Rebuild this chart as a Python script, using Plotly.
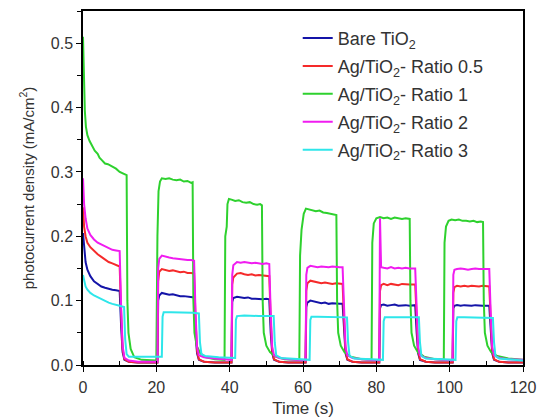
import plotly.graph_objects as go

# Photocurrent transients (light on/off cycles), read as (time s, current mA/cm2)
BARE_TIO2 = [
    (0, 0.205), (0.3, 0.18), (0.7, 0.16), (1.2, 0.148), (2, 0.138), (3, 0.13), (4, 0.126),
    (5, 0.122), (6, 0.12), (7, 0.118), (8, 0.117), (9, 0.116), (10.0, 0.115),
    (10.4, 0.06), (10.8, 0.02), (11.3, 0.008), (12.5, 0.005), (15, 0.004), (20.3, 0.004),
    (20.5, 0.1), (20.8, 0.108), (21.5, 0.112), (22.5, 0.111), (23.5, 0.109), (24.5, 0.11),
    (25.5, 0.108), (26.5, 0.107), (27.5, 0.107), (28.5, 0.106), (29.5, 0.105), (30.3, 0.105),
    (30.7, 0.05), (31.1, 0.018), (31.6, 0.008), (33, 0.005), (36, 0.004), (40.5, 0.004),
    (40.7, 0.098), (41, 0.104), (42, 0.106), (43, 0.105), (44, 0.104), (45, 0.105), (46, 0.103),
    (47, 0.103), (48, 0.102), (49, 0.102), (50, 0.103), (50.8, 0.102),
    (51.2, 0.05), (51.6, 0.018), (52.1, 0.008), (53.5, 0.005), (56, 0.004), (60.7, 0.004),
    (60.9, 0.09), (61.2, 0.097), (62, 0.1), (63, 0.099), (64, 0.097), (65, 0.096), (66, 0.097),
    (67, 0.095), (68, 0.096), (69, 0.095), (70, 0.095), (70.8, 0.095),
    (71.2, 0.05), (71.6, 0.018), (72.1, 0.008), (73.5, 0.005), (76, 0.004), (80.8, 0.004),
    (81.0, 0.088), (81.3, 0.093), (82, 0.094), (83, 0.092), (84, 0.093), (85, 0.094), (86, 0.092),
    (87, 0.093), (88, 0.093), (89, 0.092), (90.6, 0.093),
    (91.0, 0.05), (91.4, 0.018), (91.9, 0.008), (93.5, 0.005), (96, 0.004), (100.8, 0.004),
    (101.0, 0.088), (101.3, 0.092), (102, 0.093), (103, 0.092), (104, 0.093), (105, 0.092),
    (106, 0.092), (107, 0.093), (108, 0.092), (109, 0.092), (110.8, 0.092),
    (111.2, 0.05), (111.6, 0.018), (112.1, 0.008), (113.5, 0.005), (116, 0.004), (120, 0.004),
]

RATIO_05 = [
    (0, 0.245), (0.3, 0.215), (0.7, 0.2), (1.2, 0.19), (2, 0.183), (3, 0.177), (4, 0.172),
    (5, 0.168), (6, 0.164), (7, 0.16), (8, 0.158), (9, 0.155), (10.0, 0.153),
    (10.4, 0.08), (10.8, 0.025), (11.3, 0.009), (12.5, 0.005), (15, 0.004), (20.3, 0.004),
    (20.5, 0.13), (20.8, 0.145), (21.5, 0.149), (22.5, 0.148), (23.5, 0.146), (24.5, 0.147),
    (25.5, 0.145), (26.5, 0.144), (27.5, 0.145), (28.5, 0.143), (29.5, 0.143), (30.3, 0.142),
    (30.7, 0.07), (31.1, 0.022), (31.6, 0.009), (33, 0.005), (36, 0.004), (40.5, 0.004),
    (40.7, 0.125), (41, 0.136), (42, 0.142), (43, 0.143), (44, 0.141), (45, 0.14), (46, 0.141),
    (47, 0.139), (48, 0.14), (49, 0.139), (50, 0.139), (50.8, 0.138),
    (51.2, 0.07), (51.6, 0.022), (52.1, 0.009), (53.5, 0.005), (56, 0.004), (60.7, 0.004),
    (60.9, 0.115), (61.2, 0.127), (62, 0.131), (63, 0.13), (64, 0.128), (65, 0.127), (66, 0.128),
    (67, 0.127), (68, 0.126), (69, 0.127), (70, 0.126), (70.8, 0.126),
    (71.2, 0.07), (71.6, 0.022), (72.1, 0.009), (73.5, 0.005), (76, 0.004), (80.8, 0.004),
    (81.0, 0.115), (81.3, 0.124), (82, 0.126), (83, 0.124), (84, 0.126), (85, 0.125), (86, 0.124),
    (87, 0.126), (88, 0.125), (89, 0.125), (90.6, 0.125),
    (91.0, 0.07), (91.4, 0.022), (91.9, 0.009), (93.5, 0.005), (96, 0.004), (100.8, 0.004),
    (101.0, 0.112), (101.3, 0.121), (102, 0.123), (103, 0.122), (104, 0.123), (105, 0.122),
    (106, 0.123), (107, 0.122), (108, 0.122), (109, 0.123), (110.8, 0.122),
    (111.2, 0.07), (111.6, 0.022), (112.1, 0.009), (113.5, 0.005), (116, 0.004), (120, 0.004),
]

RATIO_1 = [
    (0, 0.51), (0.15, 0.47), (0.3, 0.43), (0.5, 0.395), (0.8, 0.37), (1.2, 0.357), (1.8, 0.348),
    (2.5, 0.34), (3.2, 0.333), (4, 0.328), (4.5, 0.322), (5.2, 0.318), (6, 0.313), (6.8, 0.312),
    (7.5, 0.31), (8.2, 0.308), (9, 0.305), (10, 0.3), (11, 0.297), (11.9, 0.295),
    (12.1, 0.1), (12.4, 0.05), (13, 0.025), (14, 0.012), (16, 0.008), (20.0, 0.007),
    (20.3, 0.2), (20.6, 0.27), (21, 0.285), (21.5, 0.29), (22.5, 0.289), (23.5, 0.29),
    (24.5, 0.288), (25.5, 0.287), (26.5, 0.288), (27.5, 0.285), (28.5, 0.286), (29.5, 0.283),
    (29.9, 0.284),
    (30.1, 0.1), (30.4, 0.05), (31, 0.03), (32, 0.018), (33.5, 0.012), (36, 0.009), (38.6, 0.008),
    (38.8, 0.2), (39.2, 0.215), (39.4, 0.25), (39.8, 0.258), (40.5, 0.257), (41.5, 0.255),
    (42.5, 0.256), (43.5, 0.253), (44.5, 0.252), (45.5, 0.253), (46.5, 0.25), (47.5, 0.249),
    (48.3, 0.25), (48.8, 0.248),
    (49.0, 0.1), (49.3, 0.05), (50, 0.03), (51, 0.02), (52.5, 0.013), (55, 0.009), (59, 0.008),
    (59.2, 0.17), (59.6, 0.21), (60.2, 0.235), (60.8, 0.243), (61.5, 0.242), (62.5, 0.24),
    (63.5, 0.239), (64.5, 0.24), (65.5, 0.237), (66.5, 0.236), (67.5, 0.235), (68.5, 0.234),
    (69.1, 0.233),
    (69.3, 0.1), (69.6, 0.05), (70.3, 0.03), (71.3, 0.02), (73, 0.013), (76, 0.009), (78.7, 0.008),
    (78.9, 0.19), (79.3, 0.22), (80, 0.228), (81, 0.23), (82, 0.228), (83, 0.229), (84, 0.227),
    (85, 0.229), (86, 0.228), (87, 0.227), (88, 0.228), (89.1, 0.227),
    (89.3, 0.1), (89.6, 0.05), (90.3, 0.03), (91.3, 0.02), (93, 0.013), (96, 0.009), (98.4, 0.008),
    (98.6, 0.19), (99, 0.215), (99.7, 0.224), (100.5, 0.226), (101.5, 0.225), (102.5, 0.226),
    (103.5, 0.224), (104.5, 0.224), (105.5, 0.223), (106.5, 0.224), (107.5, 0.222),
    (108.5, 0.223), (109.1, 0.222),
    (109.3, 0.1), (109.6, 0.05), (110.3, 0.03), (111.3, 0.02), (113, 0.014), (116, 0.01), (120, 0.008),
]

RATIO_2 = [
    (0, 0.29), (0.3, 0.25), (0.7, 0.228), (1.2, 0.212), (2, 0.202), (3, 0.195), (4, 0.19),
    (5, 0.187), (6, 0.184), (7, 0.181), (8, 0.179), (9, 0.178), (10.0, 0.177),
    (10.4, 0.09), (10.8, 0.03), (11.3, 0.011), (12.5, 0.007), (15, 0.005), (20.3, 0.005),
    (20.5, 0.15), (20.8, 0.165), (21.5, 0.17), (22.5, 0.168), (23.5, 0.167), (24.5, 0.166),
    (25.5, 0.165), (26.5, 0.164), (27.5, 0.164), (28.5, 0.163), (29.5, 0.163), (30.3, 0.162),
    (30.7, 0.08), (31.1, 0.028), (31.6, 0.015), (33, 0.012), (36, 0.01), (40.5, 0.008),
    (40.7, 0.14), (41, 0.155), (42, 0.16), (43, 0.159), (44, 0.16), (45, 0.159), (46, 0.158),
    (47, 0.159), (48, 0.158), (49, 0.157), (50, 0.158), (50.8, 0.157),
    (51.2, 0.08), (51.6, 0.028), (52.1, 0.015), (53.5, 0.011), (56, 0.009), (60.7, 0.007),
    (60.9, 0.14), (61.2, 0.151), (62, 0.154), (63, 0.153), (64, 0.152), (65, 0.153), (66, 0.152),
    (67, 0.152), (68, 0.153), (69, 0.152), (70, 0.152), (70.8, 0.152),
    (71.2, 0.08), (71.6, 0.028), (72.1, 0.015), (73.5, 0.011), (76, 0.009), (80.8, 0.007),
    (81.0, 0.228), (81.3, 0.152), (82, 0.151), (83, 0.15), (84, 0.152), (85, 0.15), (86, 0.151),
    (87, 0.15), (88, 0.151), (89, 0.15), (90.6, 0.15),
    (91.0, 0.08), (91.4, 0.028), (91.9, 0.015), (93.5, 0.011), (96, 0.009), (100.8, 0.007),
    (101.0, 0.14), (101.3, 0.148), (102, 0.149), (103, 0.15), (104, 0.149), (105, 0.148),
    (106, 0.149), (107, 0.15), (108, 0.149), (109, 0.149), (110.8, 0.149),
    (111.2, 0.08), (111.6, 0.028), (112.1, 0.015), (113.5, 0.011), (116, 0.009), (120, 0.008),
]

RATIO_3 = [
    (0, 0.14), (0.3, 0.13), (0.7, 0.122), (1.2, 0.117), (2, 0.112), (3, 0.108), (4, 0.105),
    (5, 0.102), (6, 0.1), (7, 0.097), (8, 0.095), (9, 0.093), (10, 0.092), (11.2, 0.09),
    (11.5, 0.04), (11.9, 0.017), (12.5, 0.013), (16, 0.013), (21.5, 0.013),
    (21.7, 0.075), (22.0, 0.082), (24, 0.082), (26, 0.082), (28, 0.081), (30, 0.081), (31.6, 0.08),
    (31.9, 0.035), (32.3, 0.017), (33.3, 0.014), (37, 0.012), (41.5, 0.011),
    (41.7, 0.07), (42.0, 0.076), (44, 0.077), (46, 0.076), (48, 0.076), (50, 0.076), (52.0, 0.076),
    (52.3, 0.035), (52.7, 0.015), (54, 0.011), (58, 0.009), (61.8, 0.008),
    (62.0, 0.07), (62.3, 0.075), (64, 0.075), (66, 0.075), (68, 0.075), (70, 0.075), (72.0, 0.074),
    (72.3, 0.035), (72.7, 0.014), (74, 0.01), (78, 0.009), (81.8, 0.008),
    (82.0, 0.068), (82.3, 0.074), (85, 0.074), (87, 0.074), (89, 0.074), (91.6, 0.074),
    (91.9, 0.035), (92.3, 0.014), (93.5, 0.01), (97, 0.009), (101.6, 0.008),
    (101.8, 0.068), (102.1, 0.074), (104, 0.074), (106, 0.074), (108, 0.074), (110, 0.074),
    (111.8, 0.073),
    (112.1, 0.035), (112.5, 0.014), (113.5, 0.01), (117, 0.008), (120, 0.007),
]

SERIES = [
    ("Bare TiO<sub>2</sub>", BARE_TIO2, "#1414a8"),
    ("Ag/TiO<sub>2</sub>- Ratio 0.5", RATIO_05, "#f52a2a"),
    ("Ag/TiO<sub>2</sub>- Ratio 1", RATIO_1, "#2ed12e"),
    ("Ag/TiO<sub>2</sub>- Ratio 2", RATIO_2, "#f01cf0"),
    ("Ag/TiO<sub>2</sub>- Ratio 3", RATIO_3, "#2ee6ea"),
]

X_TICKS = [0, 20, 40, 60, 80, 100, 120]
Y_TICKS = [0.0, 0.1, 0.2, 0.3, 0.4, 0.5]

FONT = "Liberation Sans, Arial, Helvetica, sans-serif"
TEXT = "#333333"

fig = go.Figure()
for i, (name, pts, color) in enumerate(SERIES):
    t, v = zip(*pts)
    fig.add_trace(go.Scatter(
        x=list(t), y=list(v), mode="lines", name=name,
        legendgroup=f"g{i}",
        line=dict(color=color, width=2),
    ))

axis_common = dict(
    showline=True, linecolor="black", linewidth=1.5, mirror=True,
    showgrid=False, zeroline=False, automargin=False,
    tickfont=dict(family=FONT, size=16, color=TEXT),
    ticks="outside", ticklen=5, tickwidth=1.2, tickcolor="black",
)

fig.update_xaxes(
    **axis_common,
    range=[0, 120], tickvals=X_TICKS, ticklabelstandoff=2,
    minor=dict(dtick=10, ticks="inside", ticklen=4, tickwidth=1.2, tickcolor="black"),
    title=dict(text="Time (s)", font=dict(family=FONT, size=17, color=TEXT), standoff=7),
)
fig.update_yaxes(
    **axis_common,
    range=[0, 0.55], tickvals=Y_TICKS, tickformat=".1f",
    minor=dict(dtick=0.05, ticks="outside", ticklen=4, tickwidth=1.2, tickcolor="black"),
    title=dict(text="photocurrent density (mA/cm<sup>2</sup>)",
               font=dict(family=FONT, size=15, color=TEXT), standoff=13),
)

fig.update_layout(
    width=545, height=420,
    margin=dict(l=83, r=22, t=11, b=55),
    paper_bgcolor="white", plot_bgcolor="white",
    font=dict(family=FONT, color=TEXT),
    legend=dict(
        x=0.488, y=0.975, xanchor="left", yanchor="top",
        bgcolor="rgba(0,0,0,0)", borderwidth=0,
        font=dict(family=FONT, size=18, color=TEXT),
        tracegroupgap=1.5,
    ),
)

fig.write_html("out.html")
